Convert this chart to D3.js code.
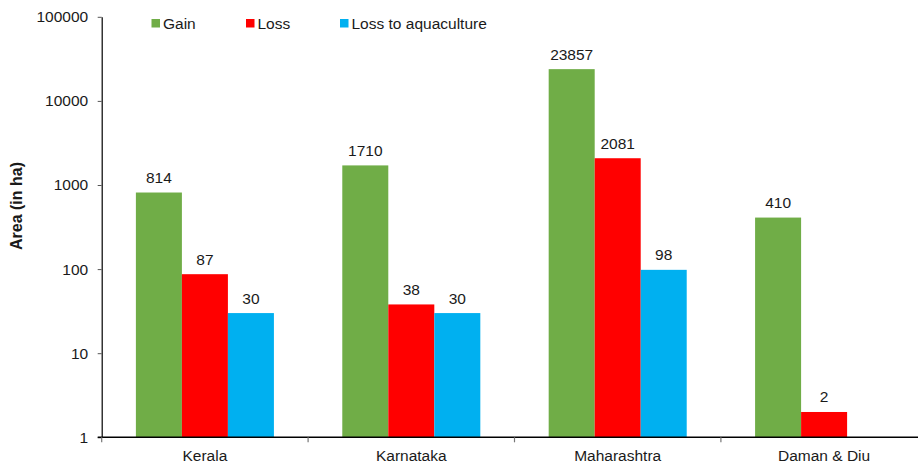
<!DOCTYPE html>
<html>
<head>
<meta charset="utf-8">
<script src="https://cdn.jsdelivr.net/npm/d3@7"></script>
<style>
  html, body { margin: 0; padding: 0; background: #fff; }
  svg { display: block; font-family: "Liberation Sans", Arial, sans-serif; }
</style>
</head>
<body>
<svg id="chart" width="918" height="468"></svg>
<script>
// Mangrove area change by state (hectares)
const categories = ["Kerala", "Karnataka", "Maharashtra", "Daman & Diu"];
const seriesNames = ["Gain", "Loss", "Loss to aquaculture"];
const gain = [814, 1710, 23857, 410];
const loss = [87, 38, 2081, 2];
const lossToAquaculture = [30, 30, 98, null];
const yTicks = [1, 10, 100, 1000, 10000, 100000];
const colors = ["#70AD47", "#FF0000", "#00B0F0"];

const seriesValues = [gain, loss, lossToAquaculture];

const fontSize = 15.5;
const svg = d3.select("#chart");
const plotLeft = 101.7, plotTop = 16.8, plotBottom = 437.3;
const groupStep = 206.4;
const plotRight = plotLeft + groupStep * categories.length;

const x = d3.scaleBand().domain(categories).range([plotLeft, plotRight]).padding(0);
const xs = d3.scaleBand().domain(seriesNames).range([0, x.bandwidth()])
  .paddingInner(0).paddingOuter(0.743);
const y = d3.scaleLog().domain([1, 100000]).range([plotBottom, plotTop]);

// Bars
const rows = [];
categories.forEach((c, i) => {
  seriesNames.forEach((s, j) => {
    const v = seriesValues[j][i];
    if (v != null) rows.push({ cat: c, series: s, value: v, color: colors[j] });
  });
});

svg.append("g").selectAll("rect").data(rows).join("rect")
  .attr("x", d => x(d.cat) + xs(d.series))
  .attr("y", d => y(d.value))
  .attr("width", xs.bandwidth())
  .attr("height", d => plotBottom - y(d.value))
  .attr("fill", d => d.color);

// Value labels
svg.append("g").selectAll("text").data(rows).join("text")
  .attr("x", d => x(d.cat) + xs(d.series) + xs.bandwidth() / 2)
  .attr("y", d => y(d.value) - 9.5)
  .attr("text-anchor", "middle")
  .attr("font-size", fontSize)
  .attr("fill", "#1a1a1a")
  .text(d => d.value);

// Y axis
const yAxis = d3.axisLeft(y).tickValues(yTicks).tickFormat(d3.format("d"))
  .tickSizeInner(4).tickSizeOuter(0).tickPadding(9.5);
const gy = svg.append("g").attr("transform", `translate(${plotLeft},0)`).call(yAxis);
gy.select(".domain").attr("stroke", "#000").attr("stroke-width", 1.2);
gy.selectAll(".tick line").attr("stroke", "#555");
gy.selectAll(".tick text").attr("font-size", fontSize).attr("fill", "#1a1a1a")
  .attr("font-family", "'Liberation Sans', Arial, sans-serif");

// X axis
const gx = svg.append("g").attr("transform", `translate(0,${plotBottom})`);
gx.append("line").attr("x1", plotLeft - 4).attr("x2", 918)
  .attr("stroke", "#000").attr("stroke-width", 1.4);
gx.selectAll("line.tk").data(categories).join("line").attr("class", "tk")
  .attr("x1", d => x(d)).attr("x2", d => x(d))
  .attr("y1", 0).attr("y2", 5)
  .attr("stroke", "#777").attr("stroke-width", 1.2);
gx.selectAll("text").data(categories).join("text")
  .attr("x", d => x(d) + x.bandwidth() / 2)
  .attr("y", 23.8)
  .attr("text-anchor", "middle")
  .attr("font-size", fontSize)
  .attr("fill", "#1a1a1a")
  .text(d => d);

// Y axis title
svg.append("text")
  .attr("transform", `translate(21.5,206) rotate(-90)`)
  .attr("text-anchor", "middle")
  .attr("font-size", 16)
  .attr("font-weight", "bold")
  .attr("fill", "#1a1a1a")
  .text("Area (in ha)");

// Legend
const legendX = [151.5, 246, 340];
const lg = svg.append("g").selectAll("g").data(seriesNames).join("g")
  .attr("transform", (d, i) => `translate(${legendX[i]},19)`);
lg.append("rect").attr("width", 8.5).attr("height", 8.5)
  .attr("fill", (d, i) => colors[i]);
lg.append("text").attr("x", 11.5).attr("y", 10)
  .attr("font-size", fontSize).attr("fill", "#1a1a1a")
  .text(d => d);
</script>
</body>
</html>
